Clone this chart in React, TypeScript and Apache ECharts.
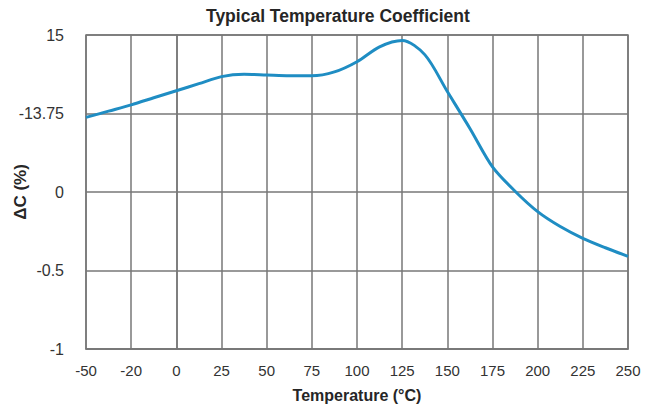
import React, { useEffect, useRef } from "react";
import * as echarts from "echarts";

const TITLE = "Typical Temperature Coefficient";
const X_NAME = "Temperature (°C)";
const Y_NAME = "ΔC (%)";
const X_TICK_LABELS = ["-50", "-20", "0", "25", "50", "75", "100", "125", "150", "175", "200", "225", "250"];
const Y_TICK_LABELS = ["-1", "-0.5", "0", "-13.75", "15"];
const TEMPS = [-50, -37.5, -25, -12.5, 0, 12.5, 25, 37.5, 50, 62.5, 75, 87.5, 100, 112.5, 125, 137.5, 150, 162.5, 175, 187.5, 200, 212.5, 225, 237.5, 250];
// values expressed in label-slot units (0 = "-1" gridline, 4 = "15" gridline)
const VALUES = [2.95, 3.03, 3.11, 3.2, 3.29, 3.38, 3.47, 3.5, 3.49, 3.48, 3.48, 3.53, 3.66, 3.85, 3.93, 3.75, 3.28, 2.81, 2.32, 2.01, 1.75, 1.56, 1.41, 1.29, 1.18];

const FONT = "'Liberation Sans', Arial, sans-serif";

export default function App() {
  const ref = useRef<HTMLDivElement>(null);
  useEffect(() => {
    if (!ref.current) return;
    const chart = echarts.init(ref.current, null, { renderer: "svg" });
    chart.setOption({
      animation: false,
      backgroundColor: "#ffffff",
      title: {
        text: TITLE,
        left: 206,
        top: 7,
        padding: 0,
        textStyle: { fontFamily: FONT, fontSize: 17.5, fontWeight: "bold", color: "#262626" },
      },
      grid: {
        left: 86,
        right: 21,
        top: 35,
        bottom: 60,
        outerBoundsMode: "none",
        containLabel: false,
        show: true,
        borderColor: "#777777",
        borderWidth: 1.5,
      },
      xAxis: {
        type: "value",
        min: -50,
        max: 250,
        interval: 25,
        name: X_NAME,
        nameLocation: "middle",
        nameGap: 38,
        nameMoveOverlap: false,
        nameTextStyle: { fontFamily: FONT, fontSize: 16, fontWeight: "bold", color: "#262626" },
        axisLine: { show: true, lineStyle: { color: "#777777", width: 1.5 } },
        axisTick: { show: false },
        splitLine: { show: true, lineStyle: { color: "#777777", width: 1.5 } },
        axisLabel: {
          margin: 14,
          fontFamily: FONT,
          fontSize: 15,
          color: "#333333",
          formatter: (v: number) => X_TICK_LABELS[Math.round((v + 50) / 25)] ?? "",
        },
      },
      yAxis: {
        type: "value",
        min: 0,
        max: 4,
        interval: 1,
        name: Y_NAME,
        nameLocation: "middle",
        nameGap: 57,
        nameMoveOverlap: false,
        nameTextStyle: { fontFamily: FONT, fontSize: 17, fontWeight: "bold", color: "#262626" },
        axisLine: { show: true, lineStyle: { color: "#777777", width: 1.5 } },
        axisTick: { show: false },
        splitLine: { show: true, lineStyle: { color: "#777777", width: 1.5 } },
        axisLabel: {
          margin: 22,
          fontFamily: FONT,
          fontSize: 16,
          color: "#333333",
          formatter: (v: number) => Y_TICK_LABELS[Math.round(v)] ?? "",
        },
      },
      series: [
        {
          type: "line",
          data: TEMPS.map((t, i) => [t, VALUES[i]]),
          smooth: 0.3,
          showSymbol: false,
          lineStyle: { color: "#1f8dc3", width: 3 },
        },
      ],
    });
    return () => chart.dispose();
  }, []);
  return <div ref={ref} style={{ width: 649, height: 409, position: "absolute", left: 0, top: 0 }} />;
}
